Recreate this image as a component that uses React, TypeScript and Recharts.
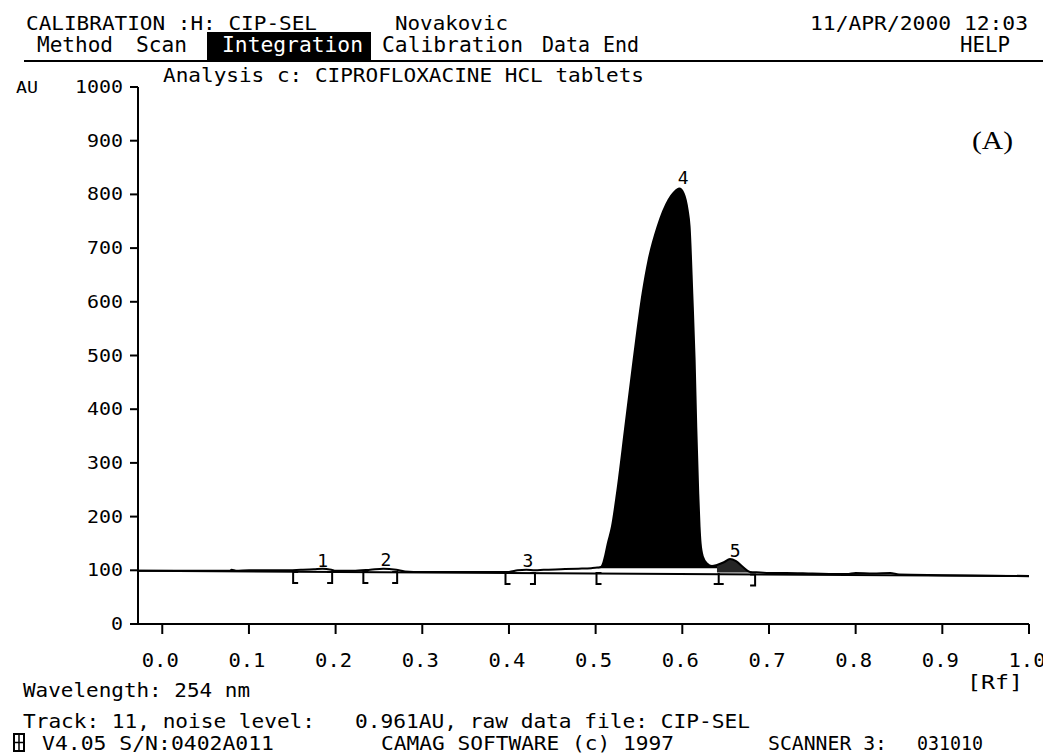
import { Area, ComposedChart, Line, Scatter, XAxis, YAxis } from 'recharts';

// densitogram trace (Rf vs AU)
const rfValues = [
  -0.028, 0.05, 0.078, 0.08, 0.085, 0.1, 0.125, 0.14, 0.16, 0.175, 0.185, 0.195, 0.2, 0.22, 0.24,
  0.255, 0.27, 0.28, 0.3, 0.35, 0.385, 0.4, 0.41, 0.42, 0.43, 0.44, 0.46, 0.48, 0.495, 0.502,
  0.506, 0.509, 0.5111, 0.514, 0.5188, 0.5246, 0.5342, 0.5438, 0.5542, 0.5611, 0.5715, 0.5842,
  0.5905, 0.5965, 0.6015, 0.6061, 0.6084, 0.6115, 0.6142, 0.6161, 0.6184, 0.6199, 0.6211, 0.6238,
  0.6284, 0.6342, 0.64, 0.648, 0.655, 0.662, 0.67, 0.678, 0.69, 0.7, 0.72, 0.75, 0.79, 0.8, 0.82,
  0.84, 0.85, 0.9, 0.95, 1.0,
];
const auValues = [
  99, 99, 99, 101, 99, 100, 100, 100, 101, 102, 103, 101, 99, 99, 101,
  103, 101, 98, 97, 97, 97, 97, 100, 101, 100, 101, 102, 103, 104, 105,
  106, 115, 128, 150, 181, 243, 367, 492, 616, 678, 740, 790,
  804, 811, 802, 771, 740, 616, 492, 367, 243, 181, 150, 125,
  113, 108, 110, 115, 121, 117, 106, 97, 96, 95, 95, 94, 93, 95, 94,
  95, 92, 91, 90, 89,
];

// straight baseline drawn under the trace
const baselineRf = [-0.028, 1.0];
const baselineAu = [99, 89.5];

// integrated peak windows
const peak4Range = [0.502, 0.64];
const peak5Range = [0.64, 0.684];

// peak numbers
const peakRf = [0.185, 0.258, 0.422, 0.601, 0.661];
const peakAu = [106, 108, 106, 819, 125];
const peakNames = ['1', '2', '3', '4', '5'];

// integration brackets under the baseline
const bracketRf = [0.151, 0.196, 0.232, 0.271, 0.396, 0.43, 0.501, 0.642, 0.684];
const bracketAu = [97, 97, 97, 97, 95, 95, 95, 95, 92];
const bracketKind = ['[', ']', '[', ']', '[', ']', '[', 'I', ']'];

const xTicks = [0, 0.1, 0.2, 0.3, 0.4, 0.5, 0.6, 0.7, 0.8, 0.9, 1.0];
const yTicks = [0, 100, 200, 300, 400, 500, 600, 700, 800, 900, 1000];

const MONO = "'DejaVu Sans Mono', monospace";

const signal = rfValues.map((rf, i) => ({ rf, au: auValues[i] }));
const baseline = baselineRf.map((rf, i) => ({ rf, au: baselineAu[i] }));
const peak4 = signal.filter((d) => d.rf >= peak4Range[0] && d.rf <= peak4Range[1]);
const peak5 = signal.filter((d) => d.rf >= peak5Range[0] && d.rf <= peak5Range[1]);
const peaks = peakRf.map((rf, i) => ({ rf, au: peakAu[i], name: peakNames[i] }));
const brackets = bracketRf.map((rf, i) => ({ rf, au: bracketAu[i], kind: bracketKind[i] }));

const XTick = (props: any) => {
  const { x, y, payload } = props;
  return (
    <text x={x - 2} y={y + 33} textAnchor="middle" fontFamily={MONO} fontSize={19}
      textLength={37} lengthAdjust="spacingAndGlyphs" fill="#000">
      {payload.value.toFixed(1)}
    </text>
  );
};

const YTick = (props: any) => {
  const { x, y, payload } = props;
  const label = String(payload.value);
  return (
    <text x={x - 7} y={y + 6} textAnchor="end" fontFamily={MONO} fontSize={17}
      textLength={label.length * 12} lengthAdjust="spacingAndGlyphs" fill="#000">
      {label}
    </text>
  );
};

const PeakLabel = (props: any) => {
  const { cx, cy, payload } = props;
  return (
    <text x={cx} y={cy} textAnchor="middle" fontFamily={MONO} fontSize={18} fill="#000">
      {payload.name}
    </text>
  );
};

const Bracket = (props: any) => {
  const { cx, cy, payload } = props;
  const h = 11;
  let d = '';
  if (payload.kind === '[') d = `M${cx + 5},${cy} H${cx} V${cy + h} H${cx + 5}`;
  else if (payload.kind === ']') d = `M${cx - 5},${cy} H${cx} V${cy + h} H${cx - 5}`;
  else d = `M${cx},${cy} V${cy + h} M${cx - 5},${cy + h} H${cx + 5}`;
  return <path d={d} stroke="#000" strokeWidth={2} fill="none" />;
};

function Txt({ x, y, len, size = 20, children, fill = '#000' }: any) {
  return (
    <text x={x} y={y} fontFamily={MONO} fontSize={size} fill={fill}
      textLength={len} lengthAdjust="spacingAndGlyphs">
      {children}
    </text>
  );
}

export default function App() {
  return (
    <div style={{ position: 'absolute', left: 0, top: 0, width: 1043, height: 756, background: '#fff' }}>
      <ComposedChart width={1043} height={756} data={signal}
        margin={{ top: 87, right: 14, bottom: 92, left: 78 }}>
        <XAxis dataKey="rf" type="number" domain={[-0.028, 1.0]} ticks={xTicks} allowDataOverflow
          height={40} tickSize={10} tickMargin={0} tick={<XTick />}
          axisLine={{ stroke: '#000', strokeWidth: 2 }} tickLine={{ stroke: '#000', strokeWidth: 2 }} />
        <YAxis type="number" domain={[0, 1000]} ticks={yTicks} allowDataOverflow
          width={60} tickSize={8} tickMargin={0} tick={<YTick />}
          axisLine={{ stroke: '#000', strokeWidth: 2 }} tickLine={{ stroke: '#000', strokeWidth: 2 }} />
        <Line data={baseline} dataKey="au" type="linear" stroke="#000" strokeWidth={2}
          dot={false} isAnimationActive={false} />
        <Area data={peak4} dataKey="au" type="monotone" baseValue={104} fill="#000" fillOpacity={1}
          stroke="none" isAnimationActive={false} />
        <Area data={peak5} dataKey="au" type="monotone" baseValue={96} fill="#000" fillOpacity={0.85}
          stroke="none" isAnimationActive={false} />
        <Line dataKey="au" type="monotone" stroke="#000" strokeWidth={2} dot={false}
          isAnimationActive={false} />
        <Scatter data={brackets} dataKey="au" shape={<Bracket />} isAnimationActive={false} />
        <Scatter data={peaks} dataKey="au" shape={<PeakLabel />} isAnimationActive={false} />
      </ComposedChart>

      <svg width={1043} height={756} style={{ position: 'absolute', left: 0, top: 0, pointerEvents: 'none' }}>
        <Txt x={26} y={30} len={291}>CALIBRATION :H: CIP-SEL</Txt>
        <Txt x={395} y={30} len={113}>Novakovic</Txt>
        <Txt x={810} y={30} len={218}>11/APR/2000 12:03</Txt>

        <line x1={24} y1={61} x2={1043} y2={61} stroke="#000" strokeWidth={2} />
        <rect x={207} y={32} width={164} height={29} fill="#000" />
        <Txt x={37} y={52} len={76} size={21}>Method</Txt>
        <Txt x={136} y={52} len={51} size={21}>Scan</Txt>
        <Txt x={222} y={52} len={141} size={21} fill="#fff">Integration</Txt>
        <Txt x={382} y={52} len={141} size={21}>Calibration</Txt>
        <Txt x={542} y={52} len={48} size={21}>Data</Txt>
        <Txt x={603} y={52} len={36} size={21}>End</Txt>
        <Txt x={960} y={52} len={50} size={21}>HELP</Txt>

        <Txt x={163} y={82} len={481}>Analysis c: CIPROFLOXACINE HCL tablets</Txt>
        <Txt x={16} y={93} len={22} size={16}>AU</Txt>

        <text x={972} y={149} fontFamily="'Liberation Serif', serif" fontSize={25} fill="#000"
          textLength={41} lengthAdjust="spacingAndGlyphs">(A)</text>

        <Txt x={23} y={697} len={227}>Wavelength: 254 nm</Txt>
        <Txt x={967} y={689} len={56}>[Rf]</Txt>
        <Txt x={23} y={728} len={292}>Track: 11, noise level:</Txt>
        <Txt x={355} y={728} len={395}>0.961AU, raw data file: CIP-SEL</Txt>
        <rect x={14} y={734} width={10} height={17} fill="none" stroke="#000" strokeWidth={2} />
        <line x1={19} y1={734} x2={19} y2={751} stroke="#000" strokeWidth={1.5} />
        <line x1={14} y1={742.5} x2={24} y2={742.5} stroke="#000" strokeWidth={1.5} />
        <Txt x={42} y={750} len={232}>V4.05 S/N:0402A011</Txt>
        <Txt x={381} y={750} len={293}>CAMAG SOFTWARE (c) 1997</Txt>
        <Txt x={768} y={750} len={119}>SCANNER 3:</Txt>
        <Txt x={917} y={750} len={66}>031010</Txt>
      </svg>
    </div>
  );
}
